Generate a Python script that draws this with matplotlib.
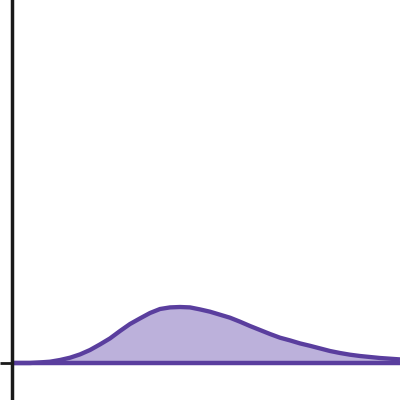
import matplotlib
matplotlib.use("Agg")
import matplotlib.pyplot as plt

# Points (position, hauteur au-dessus de la ligne de base)
positions = [0, 18, 28, 38, 48, 58, 68, 78, 88, 98, 108, 118, 128, 138,
             148, 158, 168, 178, 188, 198, 208, 218, 228, 238, 248, 258,
             268, 278, 288, 298, 308, 318, 328, 338, 348, 358, 368, 378, 388]
hauteurs = [0, 0, 0.6, 1.3, 3, 5.3, 8.6, 13, 18.6, 24.6, 32, 39, 44.6,
            50, 54, 55.6, 56, 55.6, 53.6, 51.3, 48.3, 45.3, 41.3, 37, 33,
            29, 25.3, 22.6, 19.6, 17.2, 14.6, 12, 10, 8.3, 7, 6, 5, 4.3, 3.6]

couleur_ligne = '#5a3e9e'
couleur_remplissage = '#bcb1db'

fig = plt.figure(figsize=(4, 4), dpi=100)
ax = fig.add_axes([0, 0, 1, 1])

ax.fill_between(positions, hauteurs, 0, color=couleur_remplissage, lw=0)
ax.hlines(0, positions[0], positions[-1], color=couleur_ligne, lw=3.2)
ax.plot(positions, hauteurs, color=couleur_ligne, lw=3.1, solid_capstyle='butt',
        solid_joinstyle='round')

ax.set_xlim(-12, 388)
ax.set_ylim(-37, 363)

for s in ['top', 'right', 'bottom']:
    ax.spines[s].set_visible(False)
ax.spines['left'].set_position(('data', 0))
ax.spines['left'].set_color('#1a1a1a')
ax.spines['left'].set_linewidth(2.5)
ax.spines['left'].set_zorder(3)
ax.set_xticks([])
ax.set_yticks([0])
ax.set_yticklabels([])
ax.tick_params(axis='y', length=9, width=2, color='#1a1a1a')

fig.savefig('out.png', dpi=100)
